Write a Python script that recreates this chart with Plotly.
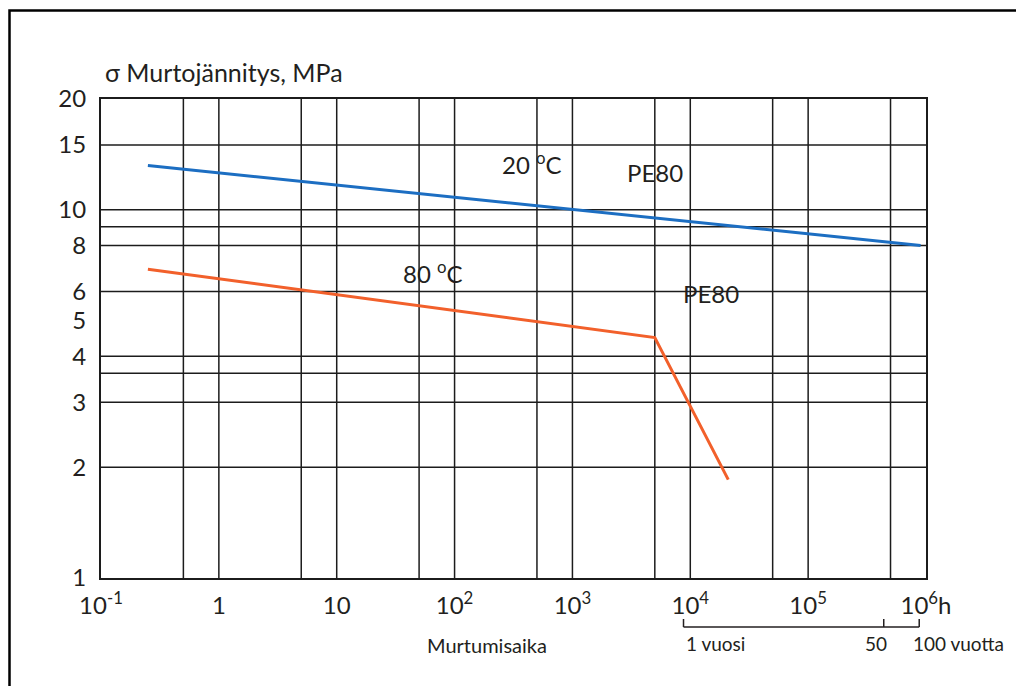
import numpy as np
import plotly.graph_objects as go

# ---- data ----
blue_x = [0.25, 9.0e5]          # hours, 20 °C PE80
blue_y = [13.2, 8.0]            # MPa
orange_x = [0.25, 5000, 2.1e4]  # hours, 80 °C PE80
orange_y = [6.9, 4.5, 1.85]     # MPa

x_tickvals = [0.1, 1, 10, 100, 1e3, 1e4, 1e5, 1e6]
x_ticktext = ["10<sup>-1</sup>", "1", "10", "10<sup>2</sup>", "10<sup>3</sup>",
              "10<sup>4</sup>", "10<sup>5</sup>", "10<sup>6</sup>h"]
y_tickvals = [1, 2, 3, 4, 5, 6, 8, 10, 15, 20]
y_ticktext = ["1", "2", "3", "4", "5", "6", "8", "10", "15", "20"]

x_grid = [0.5, 1, 5, 10, 50, 100, 500, 1000, 5000, 1e4, 5e4, 1e5, 5e5]
y_grid = [2, 3, 3.6, 4, 6, 8, 9, 10, 15]

years_hours = [8760, 438000, 876000]
years_labels = ["1 vuosi", "50", "100 vuotta"]

FONT = "Lato"
TXT = "#231f20"
GRID = "#1c1c1c"

# page offset (body margin) in the screenshot
OFF = 8
W, H = 1024, 686
L, T = 101 - OFF, 99 - OFF
pw, ph = 825, 479
R = W - L - pw
B = H - T - ph


def px(xs):
    """screen x pixel -> paper coordinate"""
    return (xs - OFF - L) / pw


def py(ys):
    """screen y pixel -> paper coordinate"""
    return (T + ph - (ys - OFF)) / ph


fig = go.Figure()
fig.add_trace(go.Scatter(x=blue_x, y=blue_y, mode="lines",
                         line=dict(color="#1c6ec2", width=3), showlegend=False))
fig.add_trace(go.Scatter(x=orange_x, y=orange_y, mode="lines",
                         line=dict(color="#f2602b", width=3), showlegend=False))

shapes = []
for gx in x_grid:
    shapes.append(dict(type="line", xref="x", yref="paper", x0=gx, x1=gx, y0=0, y1=1,
                       line=dict(color=GRID, width=1.5), layer="below"))
for gy in y_grid:
    shapes.append(dict(type="line", xref="paper", yref="y", x0=0, x1=1, y0=gy, y1=gy,
                       line=dict(color=GRID, width=1.5), layer="below"))

# outer frame (top and left visible)
shapes.append(dict(type="rect", xref="paper", yref="paper",
                   x0=px(9.5), x1=px(1060), y0=py(10.5), y1=py(720),
                   line=dict(color="black", width=2.5)))

# bracket for years
yb = py(627)
yt = py(619)
shapes.append(dict(type="line", xref="x", yref="paper", x0=years_hours[0], x1=years_hours[-1],
                   y0=yb, y1=yb, line=dict(color=TXT, width=1.5)))
for h in years_hours:
    shapes.append(dict(type="line", xref="x", yref="paper", x0=h, x1=h,
                       y0=yb, y1=yt, line=dict(color=TXT, width=1.5)))

AF = dict(family=FONT, size=24, color=TXT)
SF = dict(family=FONT, size=19, color=TXT)
annotations = [
    dict(x=np.log10(450), y=np.log10(13.4), xref="x", yref="y", text="20 <sup>o</sup>C",
         showarrow=False, font=AF),
    dict(x=np.log10(5000), y=np.log10(12.6), xref="x", yref="y", text="PE80",
         showarrow=False, font=AF),
    dict(x=np.log10(65), y=np.log10(6.78), xref="x", yref="y", text="80 <sup>o</sup>C",
         showarrow=False, font=AF),
    dict(x=np.log10(1.5e4), y=np.log10(5.94), xref="x", yref="y", text="PE80",
         showarrow=False, font=AF),
    dict(x=px(103), y=py(72), xref="paper", yref="paper", xanchor="left", yanchor="middle",
         text="σ Murtojännitys, MPa", showarrow=False,
         font=dict(family=FONT, size=25, color=TXT)),
    dict(x=px(487), y=py(645), xref="paper", yref="paper", xanchor="center", yanchor="middle",
         text="Murtumisaika", showarrow=False, font=dict(family=FONT, size=20, color=TXT)),
    dict(x=np.log10(years_hours[0]), y=py(643), xref="x", yref="paper", xanchor="left",
         yanchor="middle", xshift=0, text=years_labels[0], showarrow=False, font=SF),
    dict(x=np.log10(years_hours[1]), y=py(643), xref="x", yref="paper", xanchor="center",
         yanchor="middle", xshift=-8, text=years_labels[1], showarrow=False, font=SF),
    dict(x=np.log10(years_hours[2]), y=py(643), xref="x", yref="paper", xanchor="left",
         yanchor="middle", xshift=-8, text=years_labels[2], showarrow=False, font=SF),
]

fig.update_layout(
    width=W, height=H,
    margin=dict(l=L, r=R, t=T, b=B, pad=0),
    paper_bgcolor="white", plot_bgcolor="white",
    shapes=shapes, annotations=annotations,
    showlegend=False,
    font=dict(family=FONT, color=TXT),
)
fig.update_xaxes(type="log", range=[-1, 6], tickmode="array", tickvals=x_tickvals,
                 ticktext=x_ticktext, showgrid=False, zeroline=False,
                 showline=True, mirror=True, linecolor=GRID, linewidth=2,
                 ticks="", ticklabelstandoff=5,
                 tickfont=dict(family=FONT, size=24, color=TXT))
fig.update_yaxes(type="log", range=[0, np.log10(20)], tickmode="array", tickvals=y_tickvals,
                 ticktext=y_ticktext, showgrid=False, zeroline=False,
                 showline=True, mirror=True, linecolor=GRID, linewidth=2,
                 ticks="", ticklabelstandoff=8,
                 tickfont=dict(family=FONT, size=24, color=TXT))

fig.write_html("out.html")
